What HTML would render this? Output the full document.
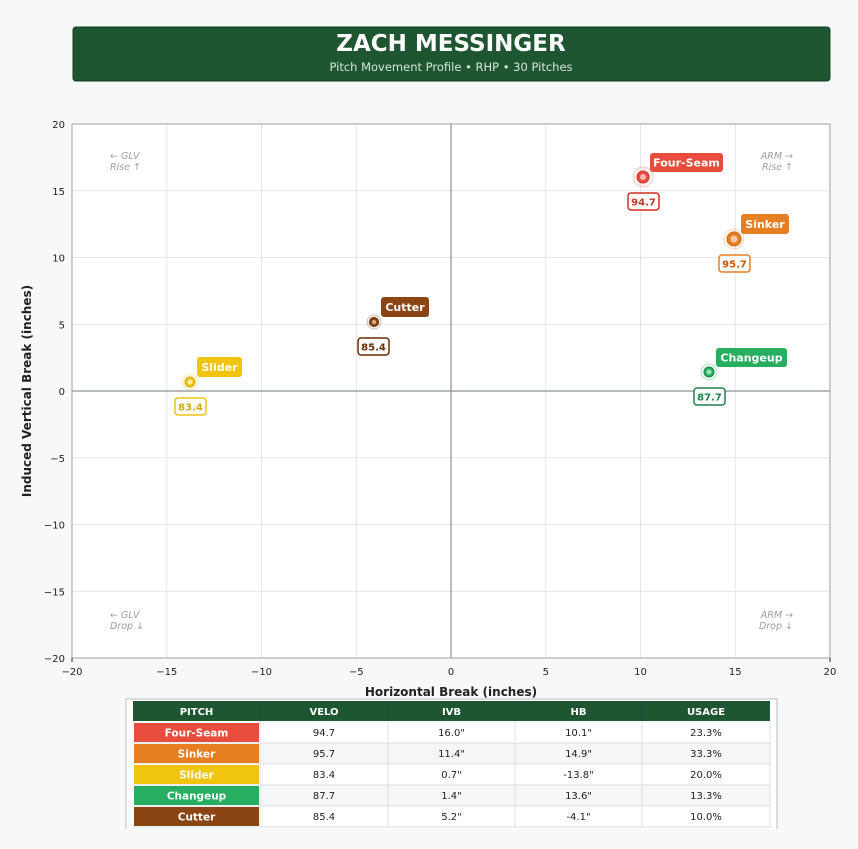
<!DOCTYPE html>
<html><head><meta charset="utf-8"><style>
body{margin:0;background:#f7f8fa;font-family:"DejaVu Sans","Liberation Sans",sans-serif;}
</style></head><body>
<svg width="858" height="849" xmlns="http://www.w3.org/2000/svg" style="display:block;font-family:'DejaVu Sans','Liberation Sans',sans-serif">
<rect width="858" height="849" fill="#f7f8fa"/>
<rect x="73" y="27" width="757" height="54" rx="3" fill="#1e5631" stroke="#143d22"/>
<text x="451" y="51" text-anchor="middle" font-size="23" font-weight="bold" fill="#fff">ZACH MESSINGER</text>
<text x="451" y="71" text-anchor="middle" font-size="11.5" fill="#d6e4da">Pitch Movement Profile  •  RHP  •  30 Pitches</text>
<rect x="72" y="124" width="758" height="534" fill="#fff"/>
<g stroke="#dcdfe3" stroke-width="0.8">
<line x1="166.75" y1="124" x2="166.75" y2="658"/><line x1="261.5" y1="124" x2="261.5" y2="658"/><line x1="356.25" y1="124" x2="356.25" y2="658"/><line x1="545.75" y1="124" x2="545.75" y2="658"/><line x1="640.5" y1="124" x2="640.5" y2="658"/><line x1="735.25" y1="124" x2="735.25" y2="658"/>
<line x1="72" y1="190.75" x2="830" y2="190.75"/><line x1="72" y1="257.5" x2="830" y2="257.5"/><line x1="72" y1="324.25" x2="830" y2="324.25"/><line x1="72" y1="457.75" x2="830" y2="457.75"/><line x1="72" y1="524.5" x2="830" y2="524.5"/><line x1="72" y1="591.25" x2="830" y2="591.25"/>
</g>
<line x1="451" y1="124" x2="451" y2="658" stroke="#8a8f96" stroke-width="1.2"/>
<line x1="72" y1="391" x2="830" y2="391" stroke="#8a8f96" stroke-width="1.2"/>
<rect x="72" y="124" width="758" height="534" fill="none" stroke="#9aa0a6"/>
<g font-size="10" fill="#222" text-anchor="middle">
<text x="72" y="675">−20</text><text x="166.75" y="675">−15</text><text x="261.5" y="675">−10</text><text x="356.25" y="675">−5</text><text x="451" y="675">0</text><text x="545.75" y="675">5</text><text x="640.5" y="675">10</text><text x="735.25" y="675">15</text><text x="830" y="675">20</text>
</g>
<g font-size="10" fill="#222" text-anchor="end">
<text x="65" y="128">20</text><text x="65" y="194.75">15</text><text x="65" y="261.5">10</text><text x="65" y="328.25">5</text><text x="65" y="395">0</text><text x="65" y="461.75">−5</text><text x="65" y="528.5">−10</text><text x="65" y="595.25">−15</text><text x="65" y="662">−20</text>
</g>
<g stroke="#222"><line x1="72" y1="658" x2="72" y2="662"/><line x1="830" y1="658" x2="830" y2="662"/></g>
<text x="451" y="696" text-anchor="middle" font-size="12" font-weight="bold" fill="#222">Horizontal Break (inches)</text>
<text transform="translate(31,391) rotate(-90)" text-anchor="middle" font-size="12" font-weight="bold" fill="#222">Induced Vertical Break (inches)</text>
<g font-size="9.5" font-style="italic" fill="#9aa0a6">
<text x="110" y="159">← GLV</text><text x="110" y="170">Rise ↑</text>
<text x="793" y="159" text-anchor="end">ARM →</text><text x="793" y="170" text-anchor="end">Rise ↑</text>
<text x="110" y="618">← GLV</text><text x="110" y="629">Drop ↓</text>
<text x="793" y="618" text-anchor="end">ARM →</text><text x="793" y="629" text-anchor="end">Drop ↓</text>
</g>
<!-- points -->
<g font-size="11" font-weight="bold">
<circle cx="643" cy="177" r="10" fill="#e74c3c" fill-opacity="0.08" stroke="#e74c3c" stroke-opacity="0.25"/><circle cx="643" cy="177" r="6" fill="#e74c3c" stroke="#c0392b"/><circle cx="643" cy="177" r="3" fill="#f5b7b1"/>
<rect x="650" y="153" width="73" height="19" rx="3" fill="#e74c3c"/><text x="686.5" y="166.5" text-anchor="middle" fill="#fff">Four-Seam</text>
<rect x="628" y="193" width="31" height="17" rx="3" fill="#fff" stroke="#d62c1a" stroke-width="1.5"/><text x="643.5" y="205.5" text-anchor="middle" font-size="10" fill="#c0392b">94.7</text>

<circle cx="734" cy="239" r="10" fill="#e67e22" fill-opacity="0.08" stroke="#e67e22" stroke-opacity="0.25"/><circle cx="734" cy="239" r="7" fill="#e67e22" stroke="#ca6f1e"/><circle cx="734" cy="239" r="3.5" fill="#f5cba7"/>
<rect x="741" y="214" width="48" height="20" rx="3" fill="#e67e22"/><text x="765" y="228" text-anchor="middle" fill="#fff">Sinker</text>
<rect x="719" y="255" width="31" height="17" rx="3" fill="#fff" stroke="#e67e22" stroke-width="1.5"/><text x="734.5" y="267.5" text-anchor="middle" font-size="10" fill="#d35400">95.7</text>

<circle cx="190" cy="382" r="8" fill="#f1c40f" fill-opacity="0.08" stroke="#f1c40f" stroke-opacity="0.3"/><circle cx="190" cy="382" r="5" fill="#f1c40f" stroke="#d4ac0d"/><circle cx="190" cy="382" r="2.5" fill="#fbeaa0"/>
<rect x="197" y="357" width="45" height="20" rx="3" fill="#f1c40f"/><text x="219.5" y="371" text-anchor="middle" fill="#fff">Slider</text>
<rect x="175" y="398" width="31" height="17" rx="3" fill="#fff" stroke="#f1c40f" stroke-width="1.5"/><text x="190.5" y="410.5" text-anchor="middle" font-size="10" fill="#d4ac0d">83.4</text>

<circle cx="709" cy="372" r="8" fill="#27ae60" fill-opacity="0.08" stroke="#27ae60" stroke-opacity="0.3"/><circle cx="709" cy="372" r="5" fill="#27ae60" stroke="#1e8449"/><circle cx="709" cy="372" r="2.5" fill="#a9dfbf"/>
<rect x="716" y="348" width="71" height="19" rx="3" fill="#27ae60"/><text x="751.5" y="361.5" text-anchor="middle" fill="#fff">Changeup</text>
<rect x="694" y="388" width="31" height="17" rx="3" fill="#fff" stroke="#1e8449" stroke-width="1.5"/><text x="709.5" y="400.5" text-anchor="middle" font-size="10" fill="#1e8449">87.7</text>

<circle cx="374" cy="322" r="7" fill="#8b4513" fill-opacity="0.08" stroke="#8b4513" stroke-opacity="0.3"/><circle cx="374" cy="322" r="4.5" fill="#8b4513" stroke="#5d2e0c"/><circle cx="374" cy="322" r="2" fill="#d2b48c"/>
<rect x="381" y="297" width="48" height="20" rx="3" fill="#8b4513"/><text x="405" y="311" text-anchor="middle" fill="#fff">Cutter</text>
<rect x="358" y="338" width="31" height="17" rx="3" fill="#fff" stroke="#6e2c00" stroke-width="1.5"/><text x="373.5" y="350.5" text-anchor="middle" font-size="10" fill="#6e2c00">85.4</text>
</g>
<!-- table -->
<rect x="126" y="699" width="651" height="140" fill="#fff" stroke="#b8bcc2"/>
<rect x="133" y="701" width="637" height="20" fill="#1e5631"/>
<g font-size="10" font-weight="bold" fill="#fff" text-anchor="middle">
<text x="196.5" y="715">PITCH</text><text x="324" y="715">VELO</text><text x="451.5" y="715">IVB</text><text x="578.5" y="715">HB</text><text x="706" y="715">USAGE</text>
</g>
<g stroke="#2c3e6b" stroke-width="0.6"><line x1="260" y1="701" x2="260" y2="721"/><line x1="388" y1="701" x2="388" y2="721"/><line x1="515" y1="701" x2="515" y2="721"/><line x1="642" y1="701" x2="642" y2="721"/></g>
<rect x="260" y="743" width="510" height="21" fill="#f5f6f8"/><rect x="260" y="785" width="510" height="21" fill="#f5f6f8"/>
<g stroke="#dcdfe3"><line x1="260" y1="722" x2="260" y2="828"/><line x1="388" y1="722" x2="388" y2="828"/><line x1="515" y1="722" x2="515" y2="828"/><line x1="642" y1="722" x2="642" y2="828"/><line x1="770" y1="722" x2="770" y2="828"/>
<line x1="133" y1="743" x2="770" y2="743"/><line x1="133" y1="764" x2="770" y2="764"/><line x1="133" y1="785" x2="770" y2="785"/><line x1="133" y1="806" x2="770" y2="806"/><line x1="133" y1="827" x2="770" y2="827"/></g>
<rect x="134" y="723" width="125" height="19" fill="#e74c3c"/>
<rect x="134" y="744" width="125" height="19" fill="#e67e22"/>
<rect x="134" y="765" width="125" height="19" fill="#f1c40f"/>
<rect x="134" y="786" width="125" height="19" fill="#27ae60"/>
<rect x="134" y="807" width="125" height="19" fill="#8b4513"/>
<g font-size="10.5" font-weight="bold" fill="#fff" text-anchor="middle">
<text x="196.5" y="736.5">Four-Seam</text><text x="196.5" y="757.5">Sinker</text><text x="196.5" y="778.5">Slider</text><text x="196.5" y="799.5">Changeup</text><text x="196.5" y="820.5">Cutter</text>
</g>
<g font-size="10" fill="#222" text-anchor="middle">
<text x="324" y="736">94.7</text><text x="451.5" y="736">16.0"</text><text x="578.5" y="736">10.1"</text><text x="706" y="736">23.3%</text>
<text x="324" y="757">95.7</text><text x="451.5" y="757">11.4"</text><text x="578.5" y="757">14.9"</text><text x="706" y="757">33.3%</text>
<text x="324" y="778">83.4</text><text x="451.5" y="778">0.7"</text><text x="578.5" y="778">-13.8"</text><text x="706" y="778">20.0%</text>
<text x="324" y="799">87.7</text><text x="451.5" y="799">1.4"</text><text x="578.5" y="799">13.6"</text><text x="706" y="799">13.3%</text>
<text x="324" y="820">85.4</text><text x="451.5" y="820">5.2"</text><text x="578.5" y="820">-4.1"</text><text x="706" y="820">10.0%</text>
</g>
<rect x="0" y="829" width="858" height="20" fill="#f7f8fa"/>
</svg>
</body></html>
